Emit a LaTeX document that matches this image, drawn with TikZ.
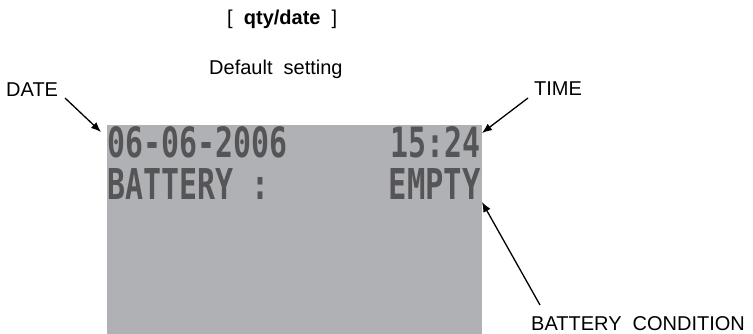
\documentclass[tikz,border=0pt]{standalone}
\usepackage{fontspec}
\setmainfont{Liberation Sans}
\newfontfamily\lcdfont{DejaVu Sans Mono}
\usepackage{graphicx}
\usetikzlibrary{arrows.meta}
\definecolor{lcdbg}{RGB}{176,177,181}
\definecolor{lcdfg}{RGB}{85,85,88}
\tikzset{
  lbl/.style={inner sep=0pt, anchor=base west, font=\fontsize{20}{24}\selectfont},
  lcdtxt/.style={inner sep=0pt, text=lcdfg, font=\lcdfont\bfseries},
  pointer/.style={draw=black, line width=1.3pt, -{Latex[length=10pt,width=8pt]}}
}
\begin{document}
\begin{tikzpicture}[x=1pt,y=-1pt]
\useasboundingbox (0,0) rectangle (753,334);
% LCD panel
\fill[lcdbg] (107,125) rectangle (482,334);
\node[lcdtxt, anchor=south west] (d1) at (107,158) {\resizebox{180pt}{31pt}{06-06-2006}};
\node[lcdtxt, anchor=south east] (t1) at (481,158) {\resizebox{90pt}{31pt}{15:24}};
\node[lcdtxt, anchor=south west] (b1) at (107,200) {\resizebox{162pt}{31pt}{BATTERY :}};
\node[lcdtxt, anchor=south east] (e1) at (481,200) {\resizebox{92pt}{31pt}{EMPTY}};
% labels
\node[lbl] (title) at (227,25) {[\ \ \textbf{qty/date}\ \ ]};
\node[lbl] (def) at (209,75) {Default\ \ setting};
\node[lbl] (date) at (6,97) {DATE};
\node[lbl] (time) at (534,96) {TIME};
\node[lbl] (bc) at (531,330) {BATTERY\ \ CONDITION};
% arrow ends
\coordinate (ds) at (65,98);
\coordinate (dt) at (101,132);
\coordinate (ts) at (528,98);
\coordinate (tt) at (482,133);
\coordinate (bs) at (540,305);
\coordinate (bt) at (482,202);
\draw[pointer] (ds) -- (dt);
\draw[pointer] (ts) -- (tt);
\draw[pointer] (bs) -- (bt);
\end{tikzpicture}
\end{document}
